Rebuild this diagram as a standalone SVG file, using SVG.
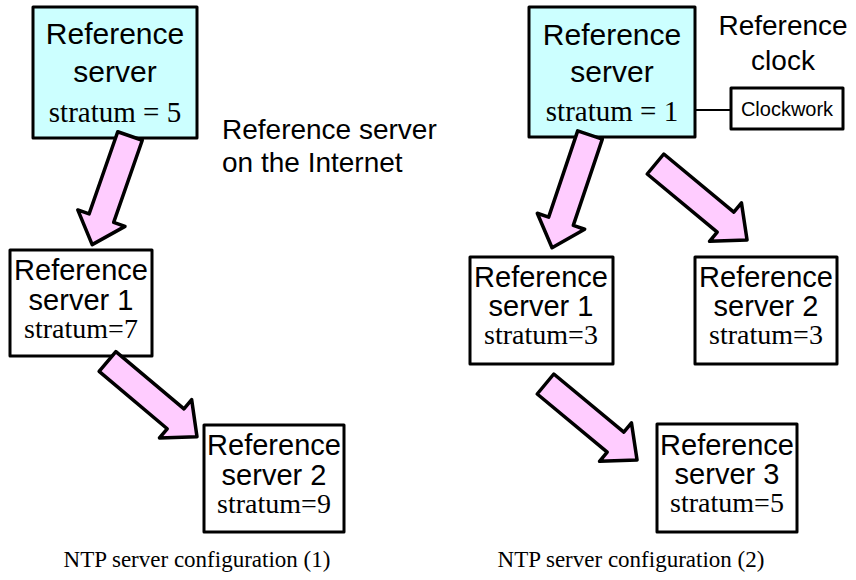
<svg xmlns="http://www.w3.org/2000/svg" width="856" height="580" viewBox="0 0 856 580">
<style>
.box{fill:#fff;stroke:#000;stroke-width:3;stroke-linejoin:round}
.top{fill:#ccffff}
.sans{font-family:"Liberation Sans",Arial,sans-serif;fill:#000;text-anchor:middle}
.serif{font-family:"Liberation Serif","Times New Roman",serif;fill:#000;text-anchor:middle}
.big{font-size:30px}
.mid{font-size:29px}
.arrow{fill:#ffccff;stroke:#000;stroke-width:3.5;stroke-linejoin:round}
.link{stroke:#000;stroke-width:2;fill:none}
</style>
<rect width="856" height="580" fill="#fff"/>

<g id="node-ref-server-5">
<rect class="box top" x="33" y="7" width="164" height="131"/>
<text class="sans big" x="115" y="44">Reference</text>
<text class="sans big" x="115" y="82">server</text>
<text class="serif" x="115" y="122" font-size="29">stratum = 5</text>
</g>

<g id="label-internet">
<text class="sans" x="222" y="139" font-size="28" style="text-anchor:start">Reference server</text>
<text class="sans" x="222" y="172" font-size="28" style="text-anchor:start">on the Internet</text>
</g>

<g id="node-left-1">
<rect class="box" x="10" y="250" width="142" height="106"/>
<text class="sans mid" x="81" y="280">Reference</text>
<text class="sans mid" x="81" y="310">server 1</text>
<text class="serif" x="81" y="338" font-size="28">stratum=7</text>
</g>

<g id="node-left-2">
<rect class="box" x="204" y="425" width="140" height="107"/>
<text class="sans mid" x="274" y="455">Reference</text>
<text class="sans mid" x="274" y="485">server 2</text>
<text class="serif" x="274" y="513" font-size="28">stratum=9</text>
</g>

<g id="node-ref-server-1">
<rect class="box top" x="529" y="7" width="166" height="130"/>
<text class="sans big" x="612" y="45">Reference</text>
<text class="sans big" x="612" y="82">server</text>
<text class="serif" x="612" y="121" font-size="29">stratum = 1</text>
</g>

<g id="label-clock">
<text class="sans" x="783" y="35" font-size="28">Reference</text>
<text class="sans" x="783" y="70" font-size="28">clock</text>
</g>

<g id="node-clockwork">
<rect class="box" x="731" y="88" width="112" height="41"/>
<text class="sans" x="787" y="116" font-size="20">Clockwork</text>
</g>

<g id="node-right-1">
<rect class="box" x="470" y="257" width="143" height="107"/>
<text class="sans mid" x="541" y="287">Reference</text>
<text class="sans mid" x="541" y="316">server 1</text>
<text class="serif" x="541" y="344" font-size="28">stratum=3</text>
</g>

<g id="node-right-2">
<rect class="box" x="695" y="257" width="142" height="107"/>
<text class="sans mid" x="766" y="287">Reference</text>
<text class="sans mid" x="766" y="316">server 2</text>
<text class="serif" x="766" y="344" font-size="28">stratum=3</text>
</g>

<g id="node-right-3">
<rect class="box" x="657" y="424" width="140" height="108"/>
<text class="sans mid" x="727" y="455">Reference</text>
<text class="sans mid" x="727" y="484">server 3</text>
<text class="serif" x="727" y="512" font-size="28">stratum=5</text>
</g>

<g id="connectors">
<line class="link" x1="695" y1="110" x2="731" y2="110"/>
<polygon class="arrow" transform="translate(130,136) rotate(109.2)" points="0,-13 87,-13 87,-25 115,0 87,25 87,13 0,13"/>
<polygon class="arrow" transform="translate(107.5,361.5) rotate(40.1)" points="0,-13 89,-13 89,-25 117,0 89,25 89,13 0,13"/>
<polygon class="arrow" transform="translate(590,135) rotate(108.6)" points="0,-13 91,-13 91,-25 119,0 91,25 91,13 0,13"/>
<polygon class="arrow" transform="translate(655.5,164) rotate(39.7)" points="0,-13 91,-13 91,-25 119,0 91,25 91,13 0,13"/>
<polygon class="arrow" transform="translate(545.5,384) rotate(39.7)" points="0,-13 91,-13 91,-25 119,0 91,25 91,13 0,13"/>
</g>

<g id="captions">
<text class="serif" x="197" y="567" font-size="23">NTP server configuration (1)</text>
<text class="serif" x="631" y="567" font-size="23">NTP server configuration (2)</text>
</g>
</svg>
